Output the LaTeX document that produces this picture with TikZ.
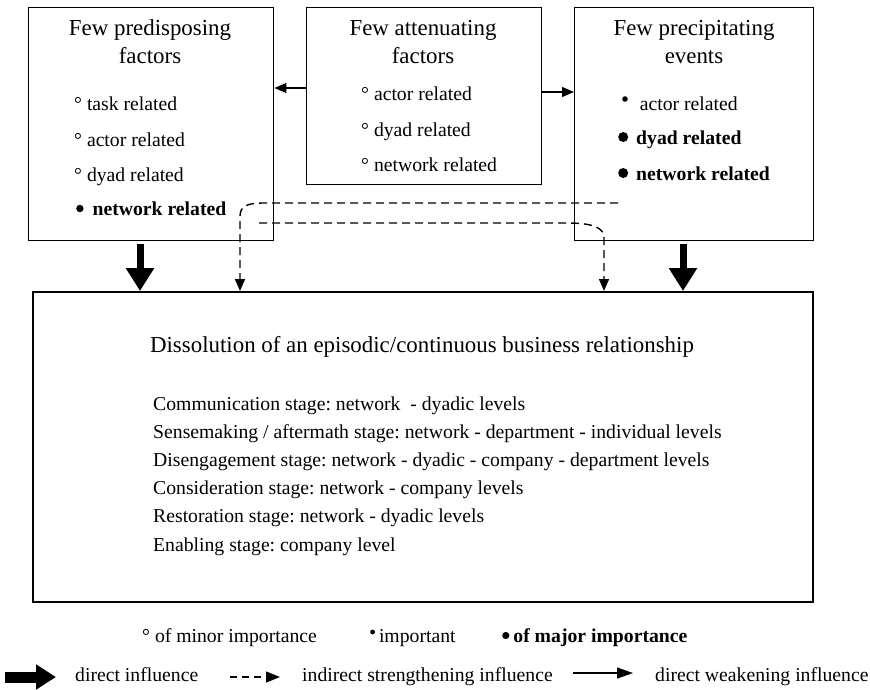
\documentclass[tikz,border=0pt]{standalone}
\usepackage{fontspec}
\setmainfont{Liberation Serif}
\usetikzlibrary{arrows.meta,calc}
\frenchspacing
% type sizes
\newcommand\bodyfs{\fontsize{19.7pt}{23pt}\selectfont}
\newcommand\headfs{\fontsize{22.9pt}{27pt}\selectfont}
% importance marks: radius, height of centre above the baseline
\newcommand\dotmin{°}
\newcommand\markdot[2]{\tikz[baseline=0pt]\fill (0pt,#2) circle[radius=#1];}

\begin{document}
\begin{tikzpicture}[x=1pt,y=-1pt,
  box/.style={draw, line width=1.4pt, inner sep=0pt, anchor=north west},
  head/.style={font=\headfs, inner sep=0pt, anchor=base},
  item/.style={font=\bodyfs, inner sep=0pt, anchor=base west},
  direct/.style={line width=7pt, -{Triangle[length=23pt,width=27pt]}},
  indirect/.style={line width=1.4pt, dash pattern=on 8pt off 5pt,
    -{Triangle[length=12pt,width=10pt]}},
  weak/.style={line width=1.2pt, -{Triangle[length=12pt,width=10pt]}}]
\useasboundingbox (0,0) rectangle (870,689);

% ---- boxes
\node[box, minimum width=245pt, minimum height=233pt] (pre) at (28,7) {};
\node[box, minimum width=235pt, minimum height=177pt] (mid) at (306,7) {};
\node[box, minimum width=239pt, minimum height=233pt] (prec) at (574,7) {};
\node[box, line width=2pt, minimum width=780pt, minimum height=310pt] (diss) at (32,291) {};

% ---- predisposing factors
\node[head] (preh1) at (150,35) {Few predisposing};
\node[head] (preh2) at (150,63) {factors};
\node[item] (pre1) at (74,110) {\dotmin\ task related};
\node[item] (pre2) at (74,146) {\dotmin\ actor related};
\node[item] (pre3) at (74,181) {\dotmin\ dyad related};
\node[item] (pre4) at (76,215) {\markdot{3.7pt}{6.5pt}\hspace{9pt}\textbf{network related}};

% ---- attenuating factors
\node[head] (midh1) at (423,35) {Few attenuating};
\node[head] (midh2) at (423,63) {factors};
\node[item] (mid1) at (361,100) {\dotmin\ actor related};
\node[item] (mid2) at (361,136) {\dotmin\ dyad related};
\node[item] (mid3) at (361,171) {\dotmin\ network related};

% ---- precipitating events
\node[head] (prech1) at (694,35) {Few precipitating};
\node[head] (prech2) at (694,63) {events};
\node[item] (prec1) at (622,110) {\markdot{2.8pt}{11pt}\hspace{12pt}actor related};
\node[item] (prec2) at (618,144) {\markdot{5pt}{7pt}\hspace{8pt}\textbf{dyad related}};
\node[item] (prec3) at (618,180) {\markdot{5pt}{7pt}\hspace{8pt}\textbf{network related}};

% ---- dissolution stages
\node[head] (dissh) at (422,352) {Dissolution of an episodic/continuous business relationship};
\node[item] (st1) at (153,410) {Communication stage: network\ \ - dyadic levels};
\node[item] (st2) at (153,438) {Sensemaking / aftermath stage: network - department - individual levels};
\node[item] (st3) at (153,466) {Disengagement stage: network - dyadic - company - department levels};
\node[item] (st4) at (153,494) {Consideration stage: network - company levels};
\node[item] (st5) at (153,522) {Restoration stage: network - dyadic levels};
\node[item] (st6) at (153,551) {Enabling stage: company level};

% ---- direct influences
\coordinate (xl) at (140,0);
\coordinate (xr) at (683,0);
\draw[direct, shorten <=3pt] (xl |- pre.south) -- (xl |- diss.north);
\draw[direct, shorten <=3pt] (xr |- prec.south) -- (xr |- diss.north);

% ---- weakening influences from the attenuating factors
\coordinate (ya) at (0,88);
\coordinate (yb) at (0,92);
\draw[weak] (mid.west |- ya) -- (pre.east |- ya);
\draw[weak] (mid.east |- yb) -- (prec.west |- yb);

% ---- indirect strengthening influences
\coordinate (u0) at (618,203);
\coordinate (u1) at (263,203);
\coordinate (u2) at (240,216);
\draw[indirect] (u0) -- (u1) .. controls (248,203) and (240,206) .. (u2) -- (u2 |- diss.north);
\coordinate (l0) at (259,223);
\coordinate (l1) at (567,223);
\coordinate (l2) at (604,238);
\draw[indirect] (l0) -- (l1) .. controls (594,223) and (604,228) .. (l2) -- (l2 |- diss.north);

% ---- legend
\node[item] (k1) at (142,642) {\dotmin\ of minor importance};
\node[item] (k2) at (370,642) {\markdot{2.4pt}{10pt}\hspace{4pt}important};
\node[item] (k3) at (502,642) {\markdot{3.6pt}{6.5pt}\hspace{4pt}\textbf{of major importance}};

\coordinate (a1) at (5,677);
\coordinate (a2) at (56,677);
\draw[line width=11pt, -{Triangle[length=20pt,width=24pt]}] (a1) -- (a2);
\node[item] (t1) at (75,681) {direct influence};

\coordinate (b1) at (230,677);
\coordinate (b2) at (280,677);
\draw[indirect, dash pattern=on 7pt off 5pt, -{Triangle[length=14pt,width=11pt]}] (b1) -- (b2);
\node[item] (t2) at (302,681) {indirect strengthening influence};

\coordinate (c1) at (573,673);
\coordinate (c2) at (633,673);
\draw[weak, -{Triangle[length=16pt,width=11pt]}] (c1) -- (c2);
\node[item] (t3) at (655,681) {direct weakening influence};
\end{tikzpicture}
\end{document}
